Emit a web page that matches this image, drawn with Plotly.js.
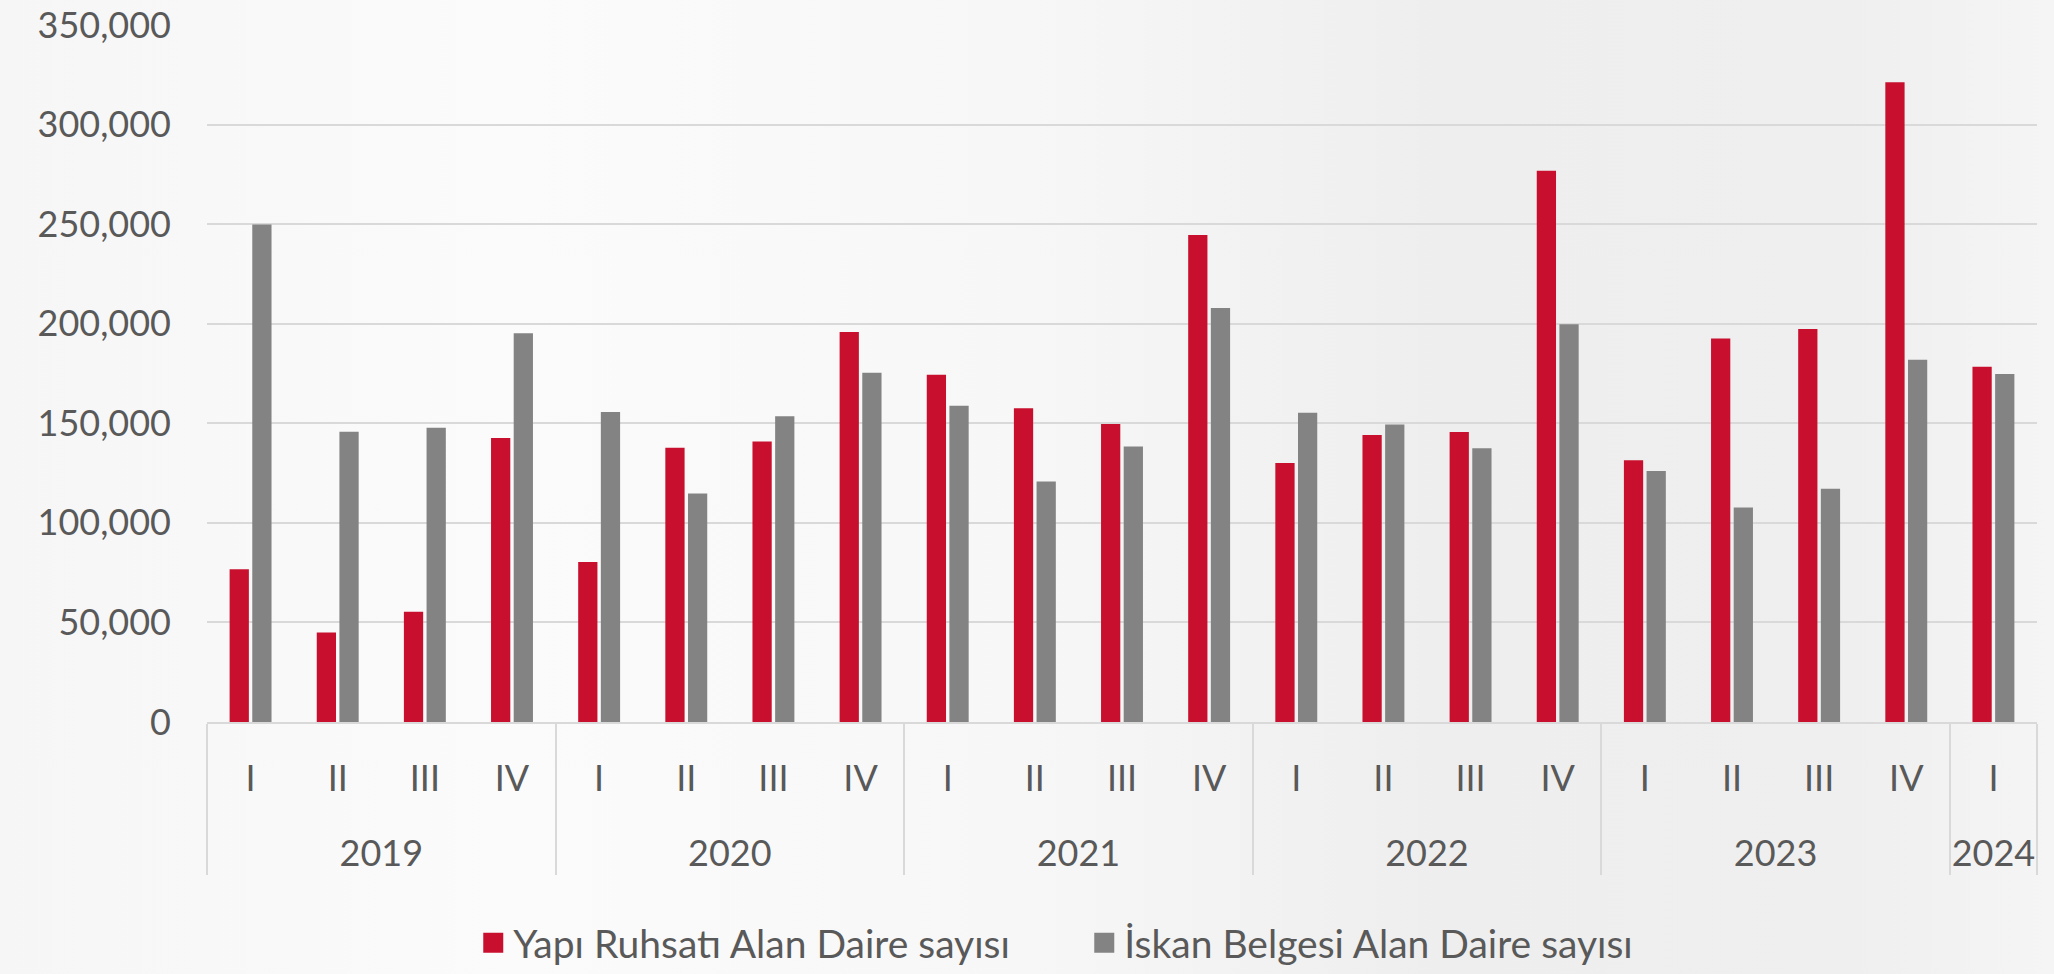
<!DOCTYPE html>
<html>
<head>
<meta charset="utf-8">
<script src="https://cdn.plot.ly/plotly-3.0.1.min.js"></script>
<style>
html,body{margin:0;padding:0;width:2054px;height:974px;overflow:hidden;}
body{background:linear-gradient(90deg,#f6f6f6 0%,#fbfbfb 25%,#f7f7f7 50%,#eeeeee 70%,#efefef 90%,#f5f5f5 100%);}
#chart{width:2054px;height:974px;}
</style>
</head>
<body>
<div id="chart"></div>
<script>
const years = ["2019","2019","2019","2019","2020","2020","2020","2020","2021","2021","2021","2021","2022","2022","2022","2022","2023","2023","2023","2023","2024"];
const quarters = ["I","II","III","IV","I","II","III","IV","I","II","III","IV","I","II","III","IV","I","II","III","IV","I"];
const seriesNames = ["Yapı Ruhsatı Alan Daire sayısı","İskan Belgesi Alan Daire sayısı"];
const yapiRuhsati = [76700,44900,55300,142600,80300,137700,140800,195800,174400,157500,149600,244600,130100,144100,145600,276800,131400,192600,197300,321200,178400];
const iskanBelgesi = [249800,145800,147800,195200,155700,114700,153500,175400,158800,120800,138400,207900,155300,149400,137500,199700,126100,107700,117100,181900,174700];
const yTicks = [0,50000,100000,150000,200000,250000,300000,350000];

const font = {family:"Lato, 'Open Sans', sans-serif", size:36, color:"#595959"};
const legendFont = {family:"Lato, 'Open Sans', sans-serif", size:39, color:"#595959"};

// quarter labels get an empty second line so the year row sits lower, as in the reference
const quarterLabels = quarters.map(q => q + "<br><span style=\"font-size:66px\">\u00a0</span>");

const traces = [
  {type:"bar", name:seriesNames[0], x:[years,quarterLabels], y:yapiRuhsati, marker:{color:"#C8102E"}, hoverinfo:"y"},
  {type:"bar", name:seriesNames[1], x:[years,quarterLabels], y:iskanBelgesi, marker:{color:"#838383"}, hoverinfo:"y"}
];

const layout = {
  width:2054, height:974,
  paper_bgcolor:"rgba(0,0,0,0)", plot_bgcolor:"rgba(0,0,0,0)",
  font:font,
  margin:{l:207, r:17, t:25, b:252},
  barmode:"group", bargap:0.48, bargroupgap:0.15,
  showlegend:true,
  legend:{orientation:"h", x:0.1455, xanchor:"left", yref:"container", y:0.032, yanchor:"middle",
          font:legendFont, itemwidth:30, entrywidth:566, bgcolor:"rgba(0,0,0,0)", traceorder:"normal"},
  xaxis:{type:"multicategory", automargin:false, showgrid:false, showline:true, linecolor:"#d9d9d9", linewidth:2,
         showdividers:true, dividercolor:"#d9d9d9", dividerwidth:2, tickfont:font, ticks:"", ticklabelstandoff:24},
  yaxis:{range:[0,350000], automargin:false, tickvals:yTicks, tickformat:",", showgrid:true, gridcolor:"#d9d9d9", gridwidth:2,
         zeroline:false, showline:false, tickfont:font, ticks:"", ticklabelstandoff:35}
};

Plotly.newPlot("chart", traces, layout, {staticPlot:true}).then(function(gd){
  gd.querySelectorAll(".legendpoints path").forEach(function(p){
    p.setAttribute("d", "M10,10H-10V-10H10Z");
  });
});
</script>
</body>
</html>
